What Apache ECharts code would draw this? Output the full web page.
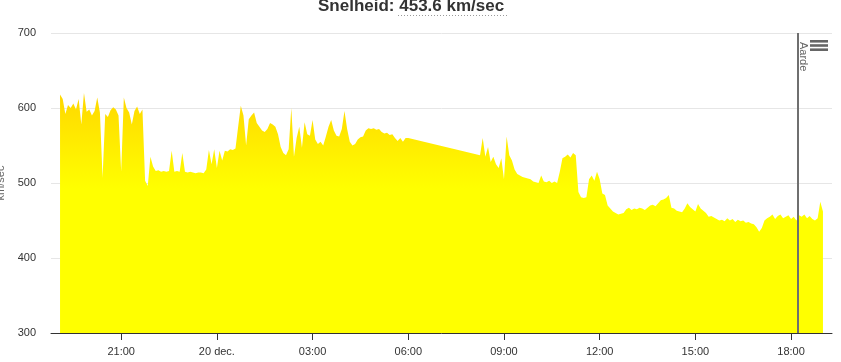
<!DOCTYPE html>
<html>
<head>
<meta charset="utf-8">
<script src="https://cdn.jsdelivr.net/npm/echarts@6/dist/echarts.min.js"></script>
<style>
html,body{margin:0;padding:0;background:#fff;}
#chart{width:841px;height:362px;}
</style>
</head>
<body>
<div id="chart"></div>
<script>
// ---- data ----
const titleText = 'Snelheid: 453.6 km/sec';
const yAxisName = 'km/sec';
const yMin = 300, yMax = 700, yStep = 100;
const axisStart = '2023-12-19 18:48';
const axisEnd = '2023-12-20 19:17';
const xTickTimes = ['2023-12-19 21:00','2023-12-20 00:00','2023-12-20 03:00','2023-12-20 06:00','2023-12-20 09:00','2023-12-20 12:00','2023-12-20 15:00','2023-12-20 18:00'];
const xTickLabels = ['21:00','20 dec.','03:00','06:00','09:00','12:00','15:00','18:00'];
const markerTime = '2023-12-20 18:12';
const markerLabel = 'Aarde';
const sampleMinutes = 5;

// first run of samples (19 Dec 19:05 -> 20 Dec 06:00)
const nightStart = '2023-12-19 19:05';
const nightValues = [
 618,612,592,604,600,606,598,612,578,620,
 595,598,590,596,614,594,507,592,588,597,
 601,598,590,515,614,600,594,578,596,602,
 592,598,503,496,535,522,516,517,515,516,
 515,516,543,515,516,515,540,515,514,515,
 514,513,514,514,513,518,544,525,545,520,
 543,530,543,542,545,544,546,575,603,590,
 550,585,590,594,580,575,570,568,572,580,
 578,575,565,548,540,537,545,600,535,560,
 575,547,581,565,563,584,558,552,555,550,
 562,575,584,570,563,562,572,596,572,555,
 550,552,558,561,562,570,573,572,573,571,
 572,568,566,567,564,565,560,556,560,555,
 560,560
];

// second run of samples (20 Dec 08:15 -> 19:00)
const dayStart = '2023-12-20 08:15';
const dayValues = [
 537,560,535,548,528,535,525,520,533,505,
 562,537,530,518,512,510,508,507,506,505,
 502,501,500,510,502,501,503,500,502,500,
 515,533,535,538,534,540,537,488,481,480,
 481,505,510,503,515,505,486,484,470,466,
 462,460,458,459,460,465,467,464,466,465,
 467,466,464,467,470,471,469,473,477,478,
 480,484,467,466,463,462,461,466,473,468,
 465,462,472,466,463,460,455,456,454,452,
 450,451,449,453,450,452,448,451,449,450,
 447,448,446,445,441,435,440,450,453,455,
 458,452,456,458,453,455,457,452,455,450,
 457,455,458,453,456,452,450,453,475,462
];

// ---- helpers ----
function toMs(s){
  const m = s.match(/(\d+)-(\d+)-(\d+) (\d+):(\d+)/);
  return Date.UTC(+m[1], +m[2]-1, +m[3], +m[4], +m[5]);
}
function run(start, values){
  const t0 = toMs(start);
  return values.map((v,i)=>[t0 + i*sampleMinutes*60000, v]);
}
const seriesData = run(nightStart, nightValues).concat(run(dayStart, dayValues));
const tickMs = xTickTimes.map(toMs);
const markerMs = toMs(markerTime);

const chart = echarts.init(document.getElementById('chart'), null, {renderer:'canvas'});
const font = 'Liberation Sans, Arial, sans-serif';
chart.setOption({
  animation:false,
  backgroundColor:'#ffffff',
  title:{
    text:titleText, left:318, top:-2, padding:0,
    textStyle:{fontFamily:font, fontSize:17, fontWeight:'bold', color:'#333333'}
  },
  grid:{left:51, right:9, top:33, bottom:29, containLabel:false, outerBoundsMode:'none'},
  xAxis:{
    type:'value', min:toMs(axisStart), max:toMs(axisEnd), scale:true,
    axisLine:{show:true, lineStyle:{color:'#333333', width:1}},
    axisTick:{show:true, length:7, customValues:tickMs, lineStyle:{color:'#333333'}},
    axisLabel:{
      customValues:tickMs, color:'#333333', fontSize:11, fontFamily:font, margin:13,
      formatter:function(v){ let best=0; for(let i=1;i<tickMs.length;i++){ if(Math.abs(tickMs[i]-v)<Math.abs(tickMs[best]-v)) best=i; } return xTickLabels[best]; }
    },
    splitLine:{show:false}
  },
  yAxis:{
    type:'value', min:yMin, max:yMax, interval:yStep,
    name:yAxisName, nameLocation:'middle', nameGap:44, nameRotate:90,
    nameTextStyle:{color:'#666666', fontSize:11, fontFamily:font},
    axisLine:{show:false}, axisTick:{show:false},
    axisLabel:{color:'#333333', fontSize:11, fontFamily:font, margin:15},
    splitLine:{lineStyle:{color:'#e6e6e6', width:1}}
  },
  series:[{
    type:'line', data:seriesData, showSymbol:false, symbol:'none',
    lineStyle:{width:0},
    areaStyle:{
      origin:'start', opacity:1,
      color:{type:'linear', x:0, y:0, x2:0, y2:1, colorStops:[
        {offset:0, color:'#FFD700'}, {offset:0.4, color:'#FFFF00'}, {offset:1, color:'#FFFF00'}
      ]}
    },
    markLine:{
      silent:true, symbol:['none','none'], animation:false,
      lineStyle:{color:'#6f6f6f', width:2, type:'solid'},
      label:{show:true, formatter:markerLabel, position:'insideStartTop', color:'#666666', fontSize:11, fontFamily:font, distance:[9,0]},
      emphasis:{disabled:true},
      data:[[{coord:[markerMs, yMax]}, {coord:[markerMs, yMin]}]]
    }
  }],
  graphic:[
    {type:'line', shape:{x1:398, y1:15.5, x2:507, y2:15.5}, style:{stroke:'#9a9a9a', lineWidth:1, lineDash:[1,2]}},
    {type:'rect', shape:{x:810, y:40, width:18, height:2.6}, style:{fill:'#666666'}},
    {type:'rect', shape:{x:810, y:44.2, width:18, height:2.6}, style:{fill:'#666666'}},
    {type:'rect', shape:{x:810, y:48.4, width:18, height:2.6}, style:{fill:'#666666'}}
  ]
});
</script>
</body>
</html>
